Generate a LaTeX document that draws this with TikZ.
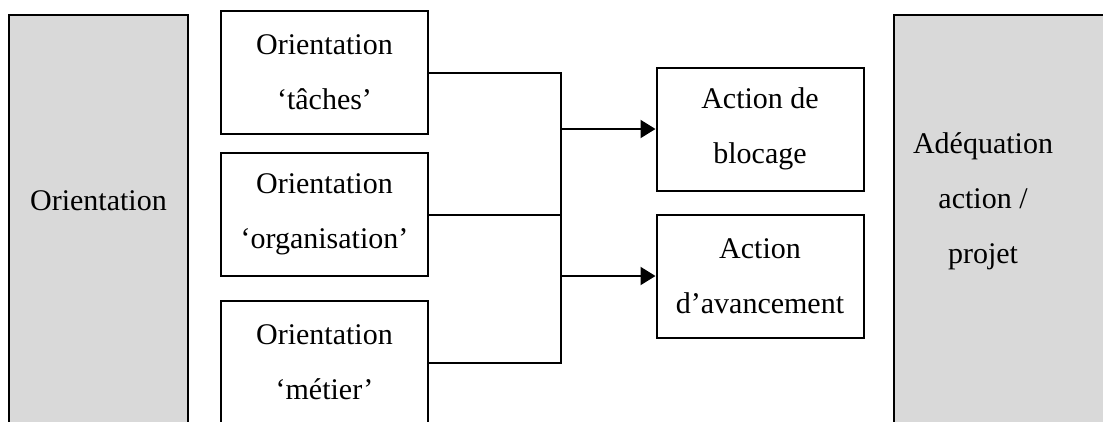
\documentclass[tikz,border=0pt]{standalone}
\usepackage{fontspec}
\setmainfont{Liberation Serif}
\usepackage{tikz}
\usetikzlibrary{positioning,arrows.meta}
\definecolor{CellGray}{HTML}{D9D9D9}

\begin{document}
\begin{tikzpicture}[x=1pt, y=-1pt,
      font=\fontsize{30}{55}\selectfont,
      box/.style={
        draw, align=center, inner sep=0pt,
        minimum width=207pt, minimum height=123pt,
        line width=2pt, fill=white
      },
      cell/.style={draw, line width=2pt, fill=CellGray},
      link/.style={line width=2pt},
      arr/.style={-{Triangle[length=15pt,width=18pt]}, line width=2pt}
    ]
      \clip (0,0) rectangle (1103,421);
      \draw[cell] (9,15) rectangle (188,445);
      \draw[cell] (894,15) rectangle (1120,445);
      \node (orient) at (98.5,201) {Orientation};
      \node[align=center] (adeq) at (983,201) {Adéquation\\action /\\projet};
      \node[box] (taches) at (324.5,72.5) {Orientation\\‘tâches’};
      \node[box, below=17pt of taches] (orga) {Orientation\\‘organisation’};
      \node[box, below=23pt of orga] (metier) {Orientation\\‘métier’};
      \node[box] (blocage) at (760,129) {Action de\\blocage};
      \node[box, below=22pt of blocage] (avance) {Action\\d’avancement};
      \coordinate (bus) at (561,0);
      \draw[link] (taches.east) -- (taches.east -| bus) -- (metier.east -| bus) -- (metier.east);
      \draw[link] (orga.east) -- (orga.east -| bus);
      \draw[arr] (blocage.west -| bus) -- (blocage.west);
      \draw[arr] (avance.west -| bus) -- (avance.west);
    \end{tikzpicture}
\end{document}
